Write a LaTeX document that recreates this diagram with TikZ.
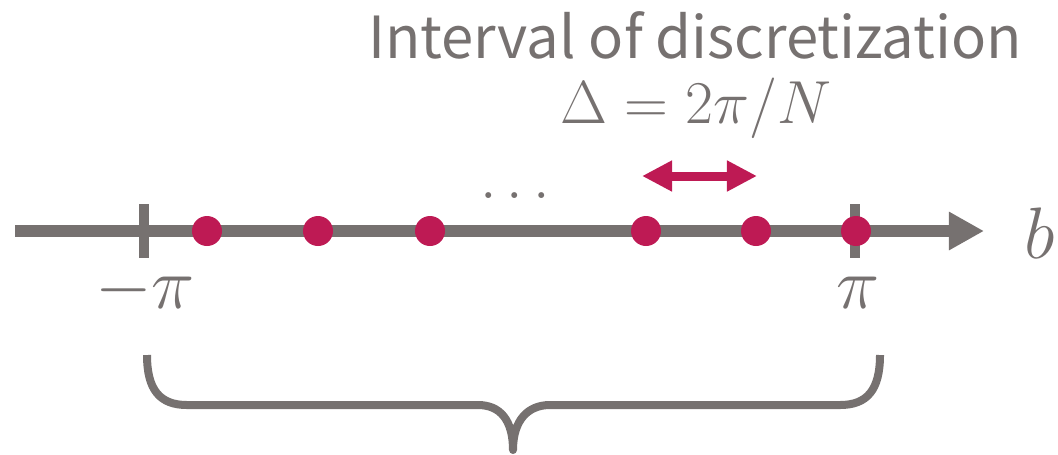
\documentclass[tikz,border=0pt]{standalone}
\usepackage{fontspec}
\newfontfamily\labelfont{Noto Sans CJK JP}
\usetikzlibrary{arrows.meta, positioning}
\definecolor{axisgray}{RGB}{118,113,112}
\definecolor{dotred}{RGB}{190,26,84}

\begin{document}
\begin{tikzpicture}[x=0.01cm, y=-0.01cm,
    axis/.style={axisgray, line width=0.12cm, -{Triangle[length=0.35cm, width=0.36cm]}},
    tickmark/.style={rectangle, fill=axisgray, minimum width=0.1cm, minimum height=0.53cm, inner sep=0pt},
    sample/.style={circle, fill=dotred, minimum size=0.3cm, inner sep=0pt},
    spacing/.style={dotred, line width=0.09cm, {Triangle[length=0.3cm, width=0.29cm]}-{Triangle[length=0.3cm, width=0.29cm]}},
    brace/.style={axisgray, line width=0.08cm, line join=round},
    mathlabel/.style={text=axisgray, font=\fontsize{21}{25}\selectfont, inner sep=0pt, anchor=base},
    caption/.style={text=axisgray, font=\labelfont\fontsize{16.5}{20}\selectfont, inner sep=0pt, anchor=base},
]

\useasboundingbox (0,0) rectangle (1058,454);

% === AXIS ===
\coordinate (start) at (15,231);
\coordinate (end) at (984,231);
\draw[axis] (start) -- (end);

% === TICKS AT -pi AND pi ===
\node[tickmark] (lo) at (144,231) {};
\node[tickmark] (hi) at (855,231) {};

% === SAMPLE POINTS ===
\foreach \x [count=\i] in {207,318,430,646,756,856} {
    \node[sample] (s\i) at (\x,231) {};
}
\node[mathlabel, font=\fontsize{17}{20}\selectfont] (dots) at (515,198) {$\dots$};

% === SPACING ARROW ===
\coordinate (dl) at (642,176);
\coordinate (dr) at (757,176);
\draw[spacing] (dl) -- (dr);

% === LABELS ===
\node[mathlabel] (b) at (1040,258) {$b$};
\node[mathlabel] (lolabel) at (145,308) {$-\pi$};
\node[mathlabel] (hilabel) at (858,308) {$\pi$};
\node[mathlabel, font=\fontsize{16}{19}\selectfont] (delta) at (696,123) {$\Delta = 2\pi/N$};
\node[caption] (title) at (695,58) {Interval of discretization};

% === BRACE ===
\draw[brace] (147,355) .. controls (147,390) and (160,405) .. (187,405) -- (478,405)
    .. controls (500,405) and (513,420) .. (513,450)
    .. controls (513,420) and (528,405) .. (550,405) -- (840,405)
    .. controls (867,405) and (880,390) .. (880,355);

\end{tikzpicture}
\end{document}
